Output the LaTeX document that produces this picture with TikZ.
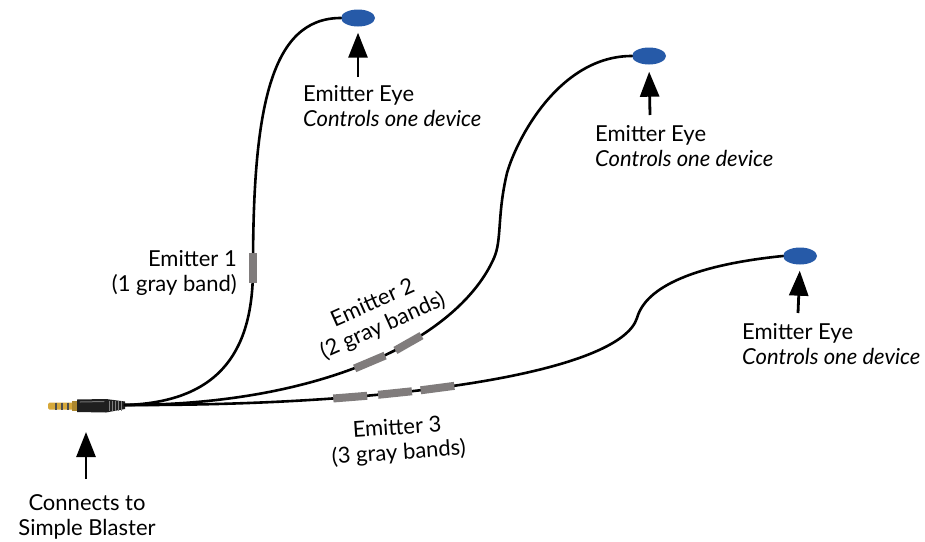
\documentclass[tikz,border=0pt]{standalone}
\usepackage{fontspec}
\setmainfont{Lato}
\usepackage{tikz}
\usetikzlibrary{arrows.meta, shapes.geometric}
\definecolor{eyeBlue}{RGB}{38,90,168}
\definecolor{bandGray}{RGB}{128,124,124}
\definecolor{plugGold}{RGB}{214,168,58}
\def\cableColor{black}
\def\labelFont{\fontsize{22}{25}\selectfont}

\begin{document}
\begin{tikzpicture}[x=1pt, y=-1pt, line cap=round, line join=round,
	cable/.style={draw=\cableColor, line width=2.6pt},
	band/.style={rectangle, fill=bandGray, inner sep=0pt, minimum height=8pt, sloped},
	eye/.style={ellipse, fill=eyeBlue, inner sep=0pt, minimum width=34pt, minimum height=17pt},
	pointer/.style={line width=2.8pt, line cap=butt, -{Triangle[length=25pt, width=19pt]}},
	caption/.style={inner sep=0pt, font=\labelFont}]
	\useasboundingbox (0,0) rectangle (925,541);
	\node[eye] (eyeA) at (358,18) {};
	\node[eye] (eyeB) at (649,56) {};
	\node[eye] (eyeC) at (800,256) {};
	\coordinate (plugEnd) at (125,405);
	\fill[plugGold, rounded corners=1.5pt] (48,402.5) rectangle (74,409.5);
	\foreach \ringX in {56, 62, 68} {
		\draw[black!70, line width=1.2pt, line cap=butt] (\ringX,402.5) -- (\ringX,409.5);
	}
	\fill[plugGold!80!black] (72,401) rectangle (77,411);
	\fill[black!88] (77,399.5) -- (106,399) -- (125,401.5) -- (125,409) -- (106,412.5) -- (77,412) -- cycle;
	\draw[black!55, line width=1pt] (80,402) -- (104,401.5);
	\foreach \ridgeX in {109, 112, ..., 122} {
		\draw[black!50, line width=0.8pt, line cap=butt] (\ridgeX,400.5) -- (\ridgeX,411);
	}
	\draw[cable] (plugEnd) .. controls (225,402) and (253,345) .. (253,268) node[band, pos=1, minimum width=30pt] {}
		.. controls (253,110) and (270,18) .. (eyeA.west);
	\draw[cable] (plugEnd) .. controls (330,405) and (460,335) .. (494,258)
		node[band, pos=0.49, minimum width=33pt] {} node[band, pos=0.6, minimum width=30pt] {}
		.. controls (502,240) and (497,215) .. (507,173)
		.. controls (517,138) and (560,56) .. (eyeB.west);
	\draw[cable] (plugEnd) .. controls (400,406) and (620,372) .. (637,318)
		node[band, pos=0.295, minimum width=34pt] {} node[band, pos=0.362, minimum width=34pt] {}
		node[band, pos=0.43, minimum width=34pt] {}
		.. controls (642,300) and (665,268) .. (eyeC.west);
	\node[caption, anchor=north west, align=left] (eyeTextA) at (303,85) {Emitter Eye\\\textit{Controls one device}};
	\node[caption, anchor=north west, align=left] (eyeTextB) at (595,125) {Emitter Eye\\\textit{Controls one device}};
	\node[caption, anchor=north west, align=left] (eyeTextC) at (742,323) {Emitter Eye\\\textit{Controls one device}};
	\node[caption, anchor=north east, align=right] (emitterTextA) at (237,250) {Emitter 1\\(1 gray band)};
	\node[caption, align=center, rotate=24] (emitterTextB) at (378,315) {Emitter 2\\(2 gray bands)};
	\node[caption, align=center, rotate=4] (emitterTextC) at (398,441) {Emitter 3\\(3 gray bands)};
	\node[caption, anchor=north, align=center] (plugText) at (87,494) {Connects to\\Simple Blaster};
	\coordinate (tailA) at (358,77);
	\coordinate (tailB) at (650,115);
	\coordinate (tailC) at (798,313);
	\coordinate (plugTail) at (86,479);
	\coordinate (plugTip) at (86,432);
	\draw[pointer, shorten >=6pt] (tailA) -- (eyeA.south);
	\draw[pointer, shorten >=7pt] (tailB) -- (eyeB.south);
	\draw[pointer, shorten >=6pt] (tailC) -- (eyeC.south);
	\draw[pointer] (plugTail) -- (plugTip);
\end{tikzpicture}
\end{document}
